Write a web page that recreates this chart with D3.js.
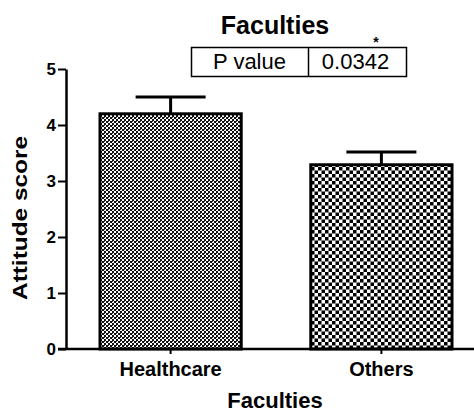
<!DOCTYPE html>
<html>
<head>
<meta charset="utf-8">
<script src="https://cdn.jsdelivr.net/npm/d3@7"></script>
<style>
  body { margin: 0; background: #fff; }
  text { font-family: "Liberation Sans", Arial, sans-serif; }
</style>
</head>
<body>
<div id="chart"></div>
<script>
// data
var categories = ["Healthcare", "Others"];
var means = [4.2, 3.29];
var errors = [0.3, 0.23];
var yTicks = [0, 1, 2, 3, 4, 5];
var pLabel = "P value";
var pValue = "0.0342";

var W = 474, H = 411;
var margin = {top: 69, right: 0, bottom: 62, left: 66},
    width = W - margin.left - margin.right,
    height = H - margin.top - margin.bottom;

var svg = d3.select("#chart")
  .append("svg")
  .attr("width", W)
  .attr("height", H);

// fill patterns
var defs = svg.append("defs");
var fine = defs.append("pattern").attr("id", "fine")
  .attr("patternUnits", "userSpaceOnUse").attr("width", 4).attr("height", 4);
fine.append("rect").attr("width", 4).attr("height", 4).attr("fill", "#fff");
fine.append("rect").attr("width", 2).attr("height", 2).attr("fill", "#111");
fine.append("rect").attr("x", 2).attr("y", 2).attr("width", 2).attr("height", 2).attr("fill", "#111");
fine.append("rect").attr("x", 2).attr("y", 0).attr("width", 1).attr("height", 1).attr("fill", "#444");

var coarse = defs.append("pattern").attr("id", "coarse")
  .attr("patternUnits", "userSpaceOnUse").attr("width", 7).attr("height", 7);
coarse.append("rect").attr("width", 7).attr("height", 7).attr("fill", "#fff");
coarse.append("rect").attr("width", 3.5).attr("height", 3.5).attr("fill", "#000");
coarse.append("rect").attr("x", 3.5).attr("y", 3.5).attr("width", 3.5).attr("height", 3.5).attr("fill", "#000");

var g = svg.append("g")
  .attr("transform", "translate(" + margin.left + "," + margin.top + ")");

var x = d3.scaleBand()
  .domain(categories)
  .range([34, 386])
  .paddingInner(0.33)
  .paddingOuter(0);

var y = d3.scaleLinear()
  .domain([0, 5])
  .range([height, 0]);

// bars
var fills = ["url(#fine)", "url(#coarse)"];
g.selectAll(".bar")
  .data(categories)
  .enter()
  .append("rect")
  .attr("x", function(d) { return x(d); })
  .attr("y", function(d, i) { return y(means[i]); })
  .attr("width", x.bandwidth())
  .attr("height", function(d, i) { return y(0) - y(means[i]); })
  .attr("fill", function(d, i) { return fills[i]; })
  .attr("stroke", "#000")
  .attr("stroke-width", 3);

// error bars (upper only)
var eb = g.selectAll(".err")
  .data(categories)
  .enter()
  .append("g");
eb.append("line")
  .attr("x1", function(d) { return x(d) + x.bandwidth() / 2; })
  .attr("x2", function(d) { return x(d) + x.bandwidth() / 2; })
  .attr("y1", function(d, i) { return y(means[i]); })
  .attr("y2", function(d, i) { return y(means[i] + errors[i]); })
  .attr("stroke", "#000").attr("stroke-width", 3);
eb.append("line")
  .attr("x1", function(d) { return x(d) + x.bandwidth() / 2 - 35; })
  .attr("x2", function(d) { return x(d) + x.bandwidth() / 2 + 35; })
  .attr("y1", function(d, i) { return y(means[i] + errors[i]); })
  .attr("y2", function(d, i) { return y(means[i] + errors[i]); })
  .attr("stroke", "#000").attr("stroke-width", 3);

// y axis
var yAxis = g.append("g")
  .call(d3.axisLeft(y).tickValues(yTicks).tickFormat(d3.format("d"))
    .tickSize(8).tickPadding(2).tickSizeOuter(0));
yAxis.select(".domain").attr("stroke-width", 2.5);
yAxis.selectAll(".tick line").attr("stroke-width", 2);
yAxis.selectAll("text")
  .style("font-size", "17px").style("font-weight", "bold").attr("fill", "#000");

// x axis
var xAxis = g.append("g")
  .attr("transform", "translate(0," + y(0) + ")")
  .call(d3.axisBottom(x).tickSize(5).tickPadding(8).tickSizeOuter(0));
xAxis.select(".domain").attr("d", "M-8,0H" + (W - margin.left)).attr("stroke-width", 2.5);
xAxis.selectAll(".tick line").attr("stroke-width", 2);
xAxis.selectAll("text")
  .style("font-size", "20px").style("font-weight", "bold").attr("fill", "#000");

// axis titles
svg.append("text")
  .attr("x", 275).attr("y", 408)
  .attr("text-anchor", "middle")
  .style("font-size", "22px").style("font-weight", "bold")
  .text("Faculties");

svg.append("text")
  .attr("transform", "translate(27,218) rotate(-90) scale(1.22,1)")
  .attr("text-anchor", "middle")
  .style("font-size", "20px").style("font-weight", "bold")
  .text("Attitude score");

// title
svg.append("text")
  .attr("x", 275).attr("y", 34)
  .attr("text-anchor", "middle")
  .style("font-size", "25px").style("font-weight", "bold")
  .text("Faculties");

// p value table
var tbl = svg.append("g");
tbl.append("rect")
  .attr("x", 191.5).attr("y", 47.5).attr("width", 215).attr("height", 29)
  .attr("fill", "none").attr("stroke", "#000").attr("stroke-width", 1.5);
tbl.append("line")
  .attr("x1", 308.5).attr("x2", 308.5).attr("y1", 47.5).attr("y2", 76.5)
  .attr("stroke", "#000").attr("stroke-width", 1.5);
tbl.append("text")
  .attr("x", 249.5).attr("y", 69).attr("text-anchor", "middle")
  .style("font-size", "22px").text(pLabel);
tbl.append("text")
  .attr("x", 355.5).attr("y", 69).attr("text-anchor", "middle")
  .style("font-size", "22px").text(pValue);
tbl.append("text")
  .attr("x", 376).attr("y", 47).attr("text-anchor", "middle")
  .style("font-size", "14px").style("font-weight", "bold").text("*");
</script>
</body>
</html>
